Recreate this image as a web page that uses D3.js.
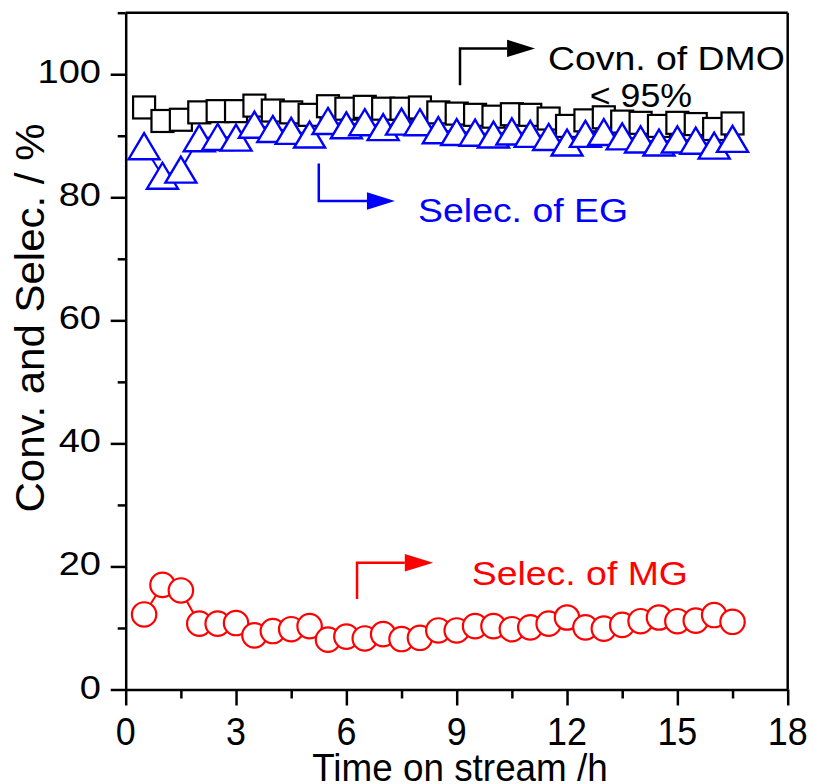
<!DOCTYPE html>
<html><head><meta charset="utf-8">
<script src="https://cdn.jsdelivr.net/npm/d3@7"></script>
<style>body{margin:0;background:#fff}svg{display:block}text{font-family:Arial,"Liberation Sans",sans-serif}</style>
</head><body>
<svg id="c" width="813" height="784"></svg>
<script>
const timeH = [0.5,1,1.5,2,2.5,3,3.5,4,4.5,5,5.5,6,6.5,7,7.5,8,8.5,9,9.5,10,10.5,11,11.5,12,12.5,13,13.5,14,14.5,15,15.5,16,16.5];
const convDMO = [94.6,92.4,92.6,93.8,94.0,94.0,94.9,94.1,93.8,93.4,94.8,94.4,94.7,94.4,94.4,94.6,93.8,93.6,93.4,93.1,93.5,93.4,92.8,91.6,92.5,93.0,92.3,92.1,91.6,92.1,91.9,91.1,92.0];
const selecEG = [88.3,83.5,84.5,89.6,89.8,89.7,91.8,91.1,90.8,90.2,92.4,91.7,92.2,91.4,92.3,92.2,90.9,90.6,90.5,90.2,90.7,90.3,89.8,88.9,90.3,90.6,89.9,89.4,88.9,89.4,89.2,88.4,89.5];
const selecMG = [12.2,17.0,16.1,10.7,10.7,10.8,8.8,9.5,9.8,10.3,8.1,8.6,8.3,9.0,8.2,8.4,9.6,9.6,10.3,10.3,9.8,10.1,10.7,11.7,10.1,9.9,10.5,11.1,11.7,11.1,11.2,12.1,11.0];
const xTicks = [0,3,6,9,12,15,18];
const yTicks = [0,20,40,60,80,100];
const xLabel = "Time on stream /h";
const yLabel = "Conv. and Selec. / %";

const svg = d3.select("#c");
const x = d3.scaleLinear().domain([0,18]).range([125.7,787.7]);
const y = d3.scaleLinear().domain([0,110]).range([689.5,12.7]);
const AX = 2.5;

// frame top/right
svg.append("line").attr("x1",x(0)).attr("x2",x(18)).attr("y1",y(110)).attr("y2",y(110)).attr("stroke","#000").attr("stroke-width",AX);
svg.append("line").attr("x1",x(18)).attr("x2",x(18)).attr("y1",y(110)).attr("y2",y(0)).attr("stroke","#000").attr("stroke-width",AX);

// x axis
const gx = svg.append("g").attr("transform",`translate(0,${y(0)})`)
  .call(d3.axisBottom(x).tickValues(d3.range(0,18.01,1.5)).tickSize(9).tickSizeOuter(0).tickFormat(""));
gx.selectAll("line").attr("stroke-width",AX);
gx.selectAll(".tick line").attr("y2",d => (d%3===0)?16:9);
gx.select(".domain").attr("stroke-width",AX);
svg.append("g").selectAll("text").data(xTicks).join("text")
  .attr("transform",d=>`translate(${x(d)},745) scale(0.92,1)`)
  .attr("text-anchor","middle").attr("font-size",39).text(d=>d);

// y axis
const gy = svg.append("g").attr("transform",`translate(${x(0)},0)`)
  .call(d3.axisLeft(y).tickValues(d3.range(0,110.1,10)).tickSize(8).tickSizeOuter(0).tickFormat(""));
gy.selectAll(".tick line").attr("x2",d => (d%20===0)?-15:-8).attr("stroke-width",AX);
gy.select(".domain").attr("stroke-width",AX);
svg.append("g").selectAll("text").data(yTicks).join("text")
  .attr("transform",d=>`translate(101,${y(d)+9}) scale(1.12,1)`)
  .attr("text-anchor","end").attr("font-size",34).text(d=>d);

// titles
svg.append("text").attr("transform",`translate(460,781) scale(0.97,1)`)
  .attr("text-anchor","middle").attr("font-size",38).text(xLabel);
svg.append("text").attr("transform",`translate(44,318) rotate(-90) scale(1.05,1)`)
  .attr("text-anchor","middle").attr("font-size",40).text(yLabel);

const lineGen = vals => d3.line().x((d,i)=>x(timeH[i])).y(d=>y(d))(vals);

// conversion DMO squares
svg.append("path").attr("d",lineGen(convDMO)).attr("fill","none").attr("stroke","#000").attr("stroke-width",2);
svg.append("g").selectAll("rect").data(convDMO).join("rect")
  .attr("x",(d,i)=>x(timeH[i])-11).attr("y",d=>y(d)-11).attr("width",22).attr("height",22)
  .attr("fill","#fff").attr("stroke","#000").attr("stroke-width",2.2);

// selectivity EG triangles
const tri = "M0,-13L15.5,13L-15.5,13Z";
svg.append("path").attr("d",lineGen(selecEG)).attr("fill","none").attr("stroke","#0000ff").attr("stroke-width",2);
svg.append("g").selectAll("path").data(selecEG).join("path")
  .attr("d",tri).attr("transform",(d,i)=>`translate(${x(timeH[i])},${y(d)})`)
  .attr("fill","#fff").attr("stroke","#0000ff").attr("stroke-width",2.4).attr("stroke-linejoin","miter");

// selectivity MG circles
svg.append("path").attr("d",lineGen(selecMG)).attr("fill","none").attr("stroke","#ff0000").attr("stroke-width",2);
svg.append("g").selectAll("circle").data(selecMG).join("circle")
  .attr("cx",(d,i)=>x(timeH[i])).attr("cy",d=>y(d)).attr("r",12.2)
  .attr("fill","#fff").attr("stroke","#ff0000").attr("stroke-width",2.2);

// annotations (data coordinates)
const annos = [
  {color:"#000", vx:9.09, vy0:98.2, vy1:104.2, hx1:10.37, tip:11.13, text:"Covn. of DMO", tx:11.48, ty:100.7},
  {color:"#0000ff", vx:5.25, vy0:85.5, vy1:79.4, hx1:6.56, tip:7.32, text:"Selec. of EG", tx:7.95, ty:76.0},
  {color:"#ff0000", vx:6.29, vy0:14.7, vy1:20.6, hx1:7.59, tip:8.36, text:"Selec. of MG", tx:9.41, ty:17.0}
];
annos.forEach(a=>{
  svg.append("path").attr("d",`M${x(a.vx)},${y(a.vy0)}V${y(a.vy1)}H${x(a.hx1)}`)
    .attr("fill","none").attr("stroke",a.color).attr("stroke-width",2.5);
  const hy=y(a.vy1);
  svg.append("path").attr("d",`M${x(a.hx1)},${hy-8.7}L${x(a.tip)},${hy}L${x(a.hx1)},${hy+8.7}Z`).attr("fill",a.color);
  svg.append("text").attr("transform",`translate(${x(a.tx)},${y(a.ty)}) scale(1.1,1)`)
    .attr("font-size",34).attr("fill",a.color).text(a.text);
});
svg.append("text").attr("transform",`translate(${x(12.62)},${y(94.7)}) scale(1.05,1)`)
  .attr("font-size",34).attr("fill","#000").text("< 95%");
</script>
</body></html>
